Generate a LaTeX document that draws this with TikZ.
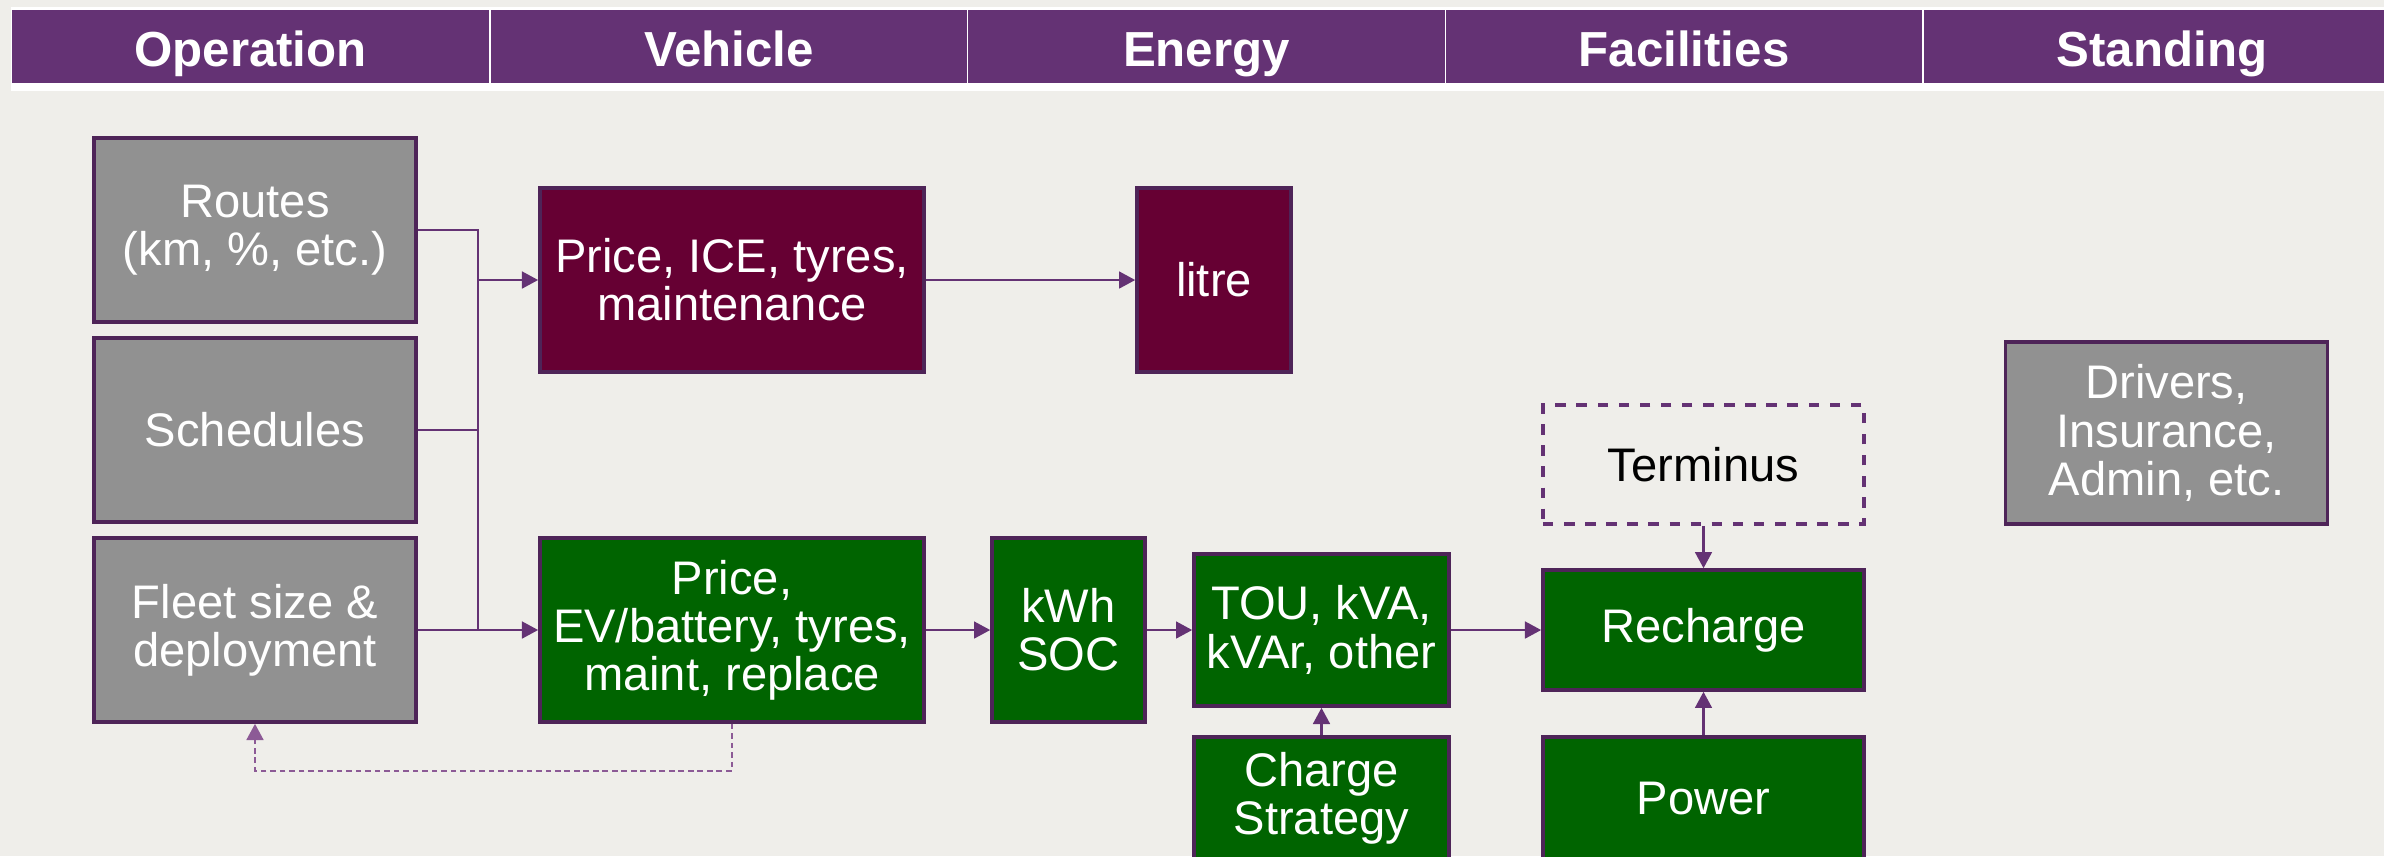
\documentclass[tikz,border=0pt]{standalone}
\usepackage{fontspec}
\setmainfont{Liberation Sans}
\usetikzlibrary{arrows.meta}
\definecolor{bgcol}{RGB}{239,238,234}
\definecolor{hdrpurple}{RGB}{100,50,116}
\definecolor{boxline}{RGB}{78,36,88}
\definecolor{opgrey}{RGB}{145,145,145}
\definecolor{icered}{RGB}{102,0,51}
\definecolor{evgreen}{RGB}{0,100,0}
\definecolor{fbpurple}{RGB}{140,90,150}
\begin{document}
\begin{tikzpicture}[x=0.01cm, y=-0.01cm,
  every node/.style={font=\fontsize{13.4}{13.7}\selectfont, align=center, inner sep=0pt},
  hdr/.style={fill=hdrpurple, text=white, font=\bfseries\fontsize{14}{16}\selectfont, text height=12pt, text depth=0.4pt, minimum width=4.76cm, minimum height=0.73cm},
  opbox/.style={fill=opgrey, draw=boxline, line width=1pt, text=white, minimum width=3.22cm, minimum height=1.84cm},
  icebox/.style={fill=icered, draw=boxline, line width=1pt, text=white, minimum height=1.84cm},
  evbox/.style={fill=evgreen, draw=boxline, line width=1pt, text=white},
  wire/.style={draw=hdrpurple, line width=0.6pt},
  arr/.style={wire, -{Triangle[length=4.6pt,width=4.8pt]}},
  fb/.style={draw=fbpurple, line width=0.6pt, dash pattern=on 1.6pt off 1.1pt, -{Triangle[length=4.6pt,width=4.8pt]}}]
\useasboundingbox (0,0) rectangle (2384,856);
\clip (0,0) rectangle (2384,856);
\fill[bgcol] (0,0) rectangle (2384,856);
% header
\fill[white] (11,7) rectangle (2384,91);
\node[hdr] (hop) at (250.5,46.5) {Operation};
\node[hdr] (hveh) at (729,46.5) {Vehicle};
\node[hdr] (hen) at (1206.5,46.5) {Energy};
\node[hdr] (hfac) at (1684,46.5) {Facilities};
\node[hdr] (hstd) at (2162,46.5) {Standing};
% operation inputs
\node[opbox] (routes) at (255,230) {Routes\\(km, \%, etc.)};
\node[opbox] (sched) at (255,430) {Schedules};
\node[opbox] (fleet) at (255,630) {Fleet size \&\\deployment};
% ICE path
\node[icebox, minimum width=3.84cm] (ice) at (732,280) {Price, ICE, tyres,\\maintenance};
\node[icebox, minimum width=1.54cm] (litre) at (1214,280) {litre};
% EV path
\node[evbox, minimum width=3.84cm, minimum height=1.84cm] (ev) at (732,630) {Price,\\EV/battery, tyres,\\maint, replace};
\node[evbox, minimum width=1.53cm, minimum height=1.84cm] (kwh) at (1068.5,630) {kWh\\SOC};
\node[evbox, minimum width=2.55cm, minimum height=1.52cm] (tou) at (1321.5,630) {TOU, kVA,\\kVAr, other};
\node[evbox, minimum width=2.55cm, minimum height=1.23cm] (strat) at (1321.5,798.5) {Charge\\Strategy};
\node[evbox, minimum width=3.21cm, minimum height=1.20cm] (rech) at (1703.5,630) {Recharge};
\node[evbox, minimum width=3.21cm, minimum height=1.23cm] (power) at (1703.5,798.5) {Power};
\node[draw=hdrpurple, line width=1pt, dashed, minimum width=3.21cm, minimum height=1.19cm] (term) at (1703.5,464.5) {Terminus};
% standing costs
\node[opbox, minimum height=1.82cm] (drivers) at (2166.5,433) {Drivers,\\Insurance,\\Admin, etc.};
% connectors
\coordinate (jbot) at (478,630);
\draw[wire] (routes.east) -| (jbot);
\draw[wire] (sched.east) -- (sched.east -| jbot);
\draw[wire] (fleet.east) -- (jbot);
\draw[arr] (ice.west -| jbot) -- (ice.west);
\draw[arr] (jbot) -- (ev.west);
\draw[arr] (ice) -- (litre);
\draw[arr] (ev) -- (kwh);
\draw[arr] (kwh) -- (tou);
\draw[arr] (tou) -- (rech);
\draw[arr] (term) -- (rech);
\draw[arr] (power) -- (rech);
\draw[arr] (strat) -- (tou);
\draw[fb] (ev.south) -- ++(0,47) -| (fleet.south);
\end{tikzpicture}
\end{document}
